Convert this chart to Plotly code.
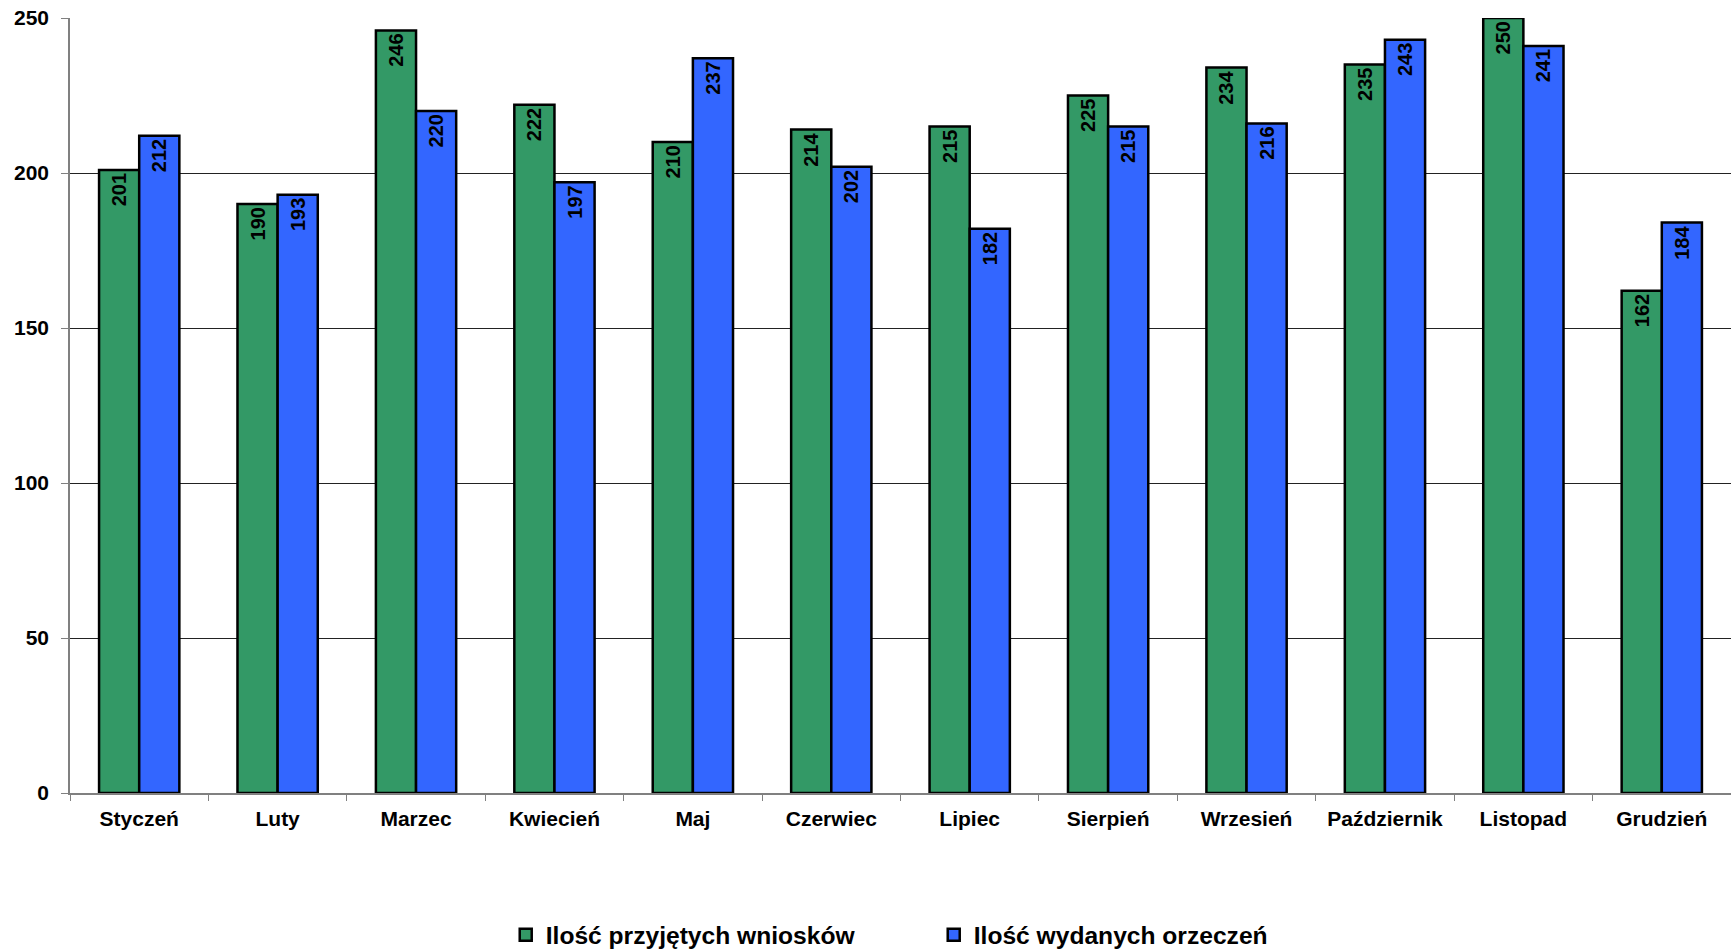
import plotly.graph_objects as go

months = ["Styczeń", "Luty", "Marzec", "Kwiecień", "Maj", "Czerwiec", "Lipiec",
          "Sierpień", "Wrzesień", "Październik", "Listopad", "Grudzień"]
wnioski = [201, 190, 246, 222, 210, 214, 215, 225, 234, 235, 250, 162]
orzeczenia = [212, 193, 220, 197, 237, 202, 182, 215, 216, 243, 241, 184]
y_ticks = [0, 50, 100, 150, 200, 250]

FONT = "Liberation Sans"

fig = go.Figure()
for name, vals, color in [("Ilość przyjętych wniosków", wnioski, "#339966"),
                          ("Ilość wydanych orzeczeń", orzeczenia, "#3366FF")]:
    fig.add_trace(go.Bar(
        x=months, y=vals, name=name,
        marker=dict(color=color, line=dict(color="black", width=2.5)),
        text=[str(v) for v in vals],
        textposition="inside", insidetextanchor="end", textangle=-90,
        textfont=dict(family=FONT, size=20, color="black", weight="bold"),
        constraintext="none", cliponaxis=False,
    ))

fig.update_layout(
    width=1731, height=952,
    barmode="group", bargap=0.42, bargroupgap=0,
    paper_bgcolor="white", plot_bgcolor="white",
    margin=dict(l=70, r=0, t=18, b=159, autoexpand=False),
    font=dict(family=FONT, size=20, color="black"),
    showlegend=True,
    legend=dict(orientation="h", x=0.520, xanchor="center", y=-0.183, yanchor="middle",
                font=dict(family=FONT, size=24.6, color="black", weight="bold"),
                entrywidth=383, itemwidth=30, traceorder="normal"),
)
fig.update_xaxes(
    type="category", showgrid=False, showline=True, linecolor="#808080", linewidth=1.5,
    ticks="outside", tickson="boundaries", ticklen=6, tickcolor="#808080",
    ticklabelstandoff=6, automargin=False,
    tickfont=dict(family=FONT, size=21, color="black", weight="bold"),
)
fig.update_yaxes(
    range=[0, 250], tickvals=y_ticks, showgrid=True, gridcolor="#222222", gridwidth=1,
    showline=True, linecolor="#808080", linewidth=1.5, zeroline=False,
    ticks="outside", ticklen=7, tickcolor="#808080", ticklabelstandoff=8,
    ticklabeloverflow="allow", automargin=False,
    tickfont=dict(family=FONT, size=21, color="black", weight="bold"),
)

fig.write_html("out.html",
               config={"displayModeBar": False},
               post_script="document.body.style.margin='0';document.body.style.overflow='hidden';")
